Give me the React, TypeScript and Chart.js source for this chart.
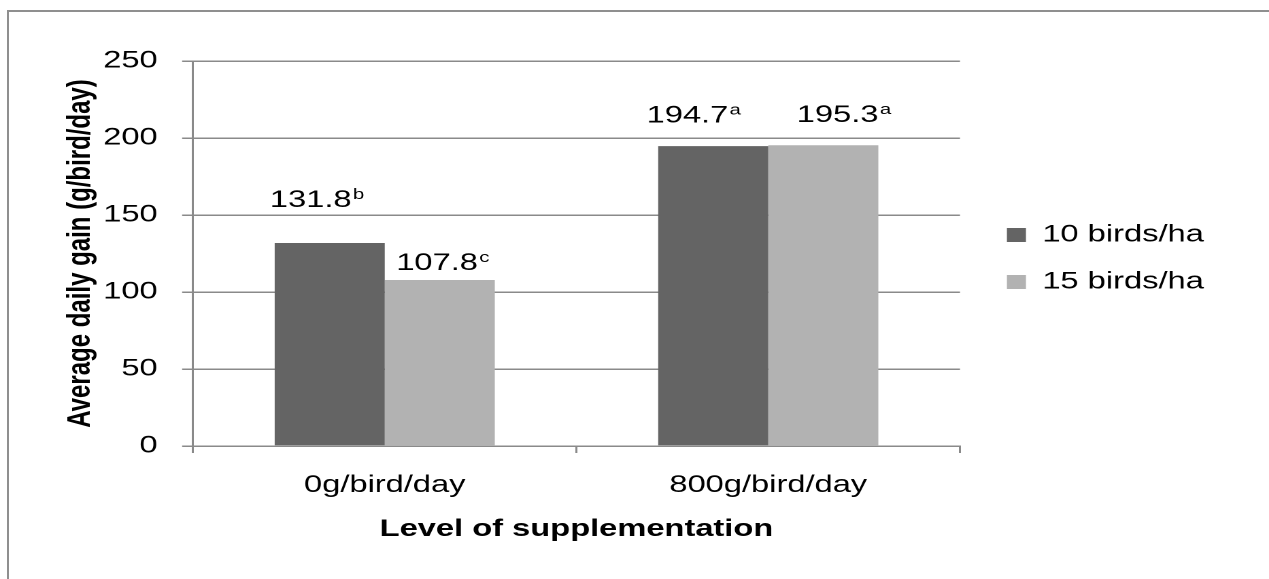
import React, { useEffect, useRef } from "react";
import { Chart, registerables } from "chart.js";

Chart.register(...registerables);

// ---------- data ----------
const CATEGORIES = ["0g/bird/day", "800g/bird/day"];
const SERIES_NAMES = ["10 birds/ha", "15 birds/ha"];
const SERIES_10 = [131.8, 194.7];
const SERIES_15 = [107.8, 195.3];
const SUP_10 = ["b", "a"];
const SUP_15 = ["c", "a"];
const Y_TICKS = [0, 50, 100, 150, 200, 250];
const X_TITLE = "Level of supplementation";
const Y_TITLE = "Average daily gain (g/bird/day)";

// ---------- layout / style ----------
const PAGE_W = 1269;
const PAGE_H = 579;
const W = 933; // drawing width, stretched horizontally to the page width
const S = PAGE_W / W;
const PLOT_LEFT = 193 / S;
const PLOT_RIGHT = 960 / S;
const PLOT_TOP = 61;
const PLOT_BOTTOM = 446;

const FONT = "'Liberation Sans', Arial, Helvetica, sans-serif";
const GRID = "#8a8a8a";
const DARK = "#646464";
const LIGHT = "#b2b2b2";

// label nudges (dataset, category)
const LABEL_DX = [
  [-44, -49],
  [-32, -19.5],
];
const LABEL_LIFT = [
  [36, 23.5],
  [10, 23],
];

const layoutFix = {
  id: "layoutFix",
  beforeUpdate(chart: any) {
    const lg = chart.legend;
    if (lg && !lg._fixedFit) {
      const fit = lg.fit.bind(lg);
      lg.fit = function () {
        fit();
        this.width = W - PLOT_RIGHT;
      };
      lg._fixedFit = true;
    }
  },
  afterLayout(chart: any) {
    const lg = chart.legend;
    if (lg) {
      lg.left += 11.5;
      lg.right += 11.5;
      lg.top += 5;
      lg.bottom += 5;
    }
  },
};

const dataLabels = {
  id: "dataLabels",
  afterDatasetsDraw(chart: any) {
    const ctx = chart.ctx;
    const sups = [SUP_10, SUP_15];
    chart.data.datasets.forEach((ds: any, di: number) => {
      const meta = chart.getDatasetMeta(di);
      meta.data.forEach((bar: any, i: number) => {
        const main = Number(ds.data[i]).toFixed(1);
        const x = bar.x + LABEL_DX[di][i];
        const y = bar.y - LABEL_LIFT[di][i];
        ctx.save();
        ctx.fillStyle = "#000";
        ctx.textAlign = "left";
        ctx.textBaseline = "alphabetic";
        ctx.font = `24px ${FONT}`;
        ctx.fillText(main, x, y);
        const w = ctx.measureText(main).width;
        ctx.font = `15px ${FONT}`;
        ctx.fillText(sups[di][i], x + w + 1, y - 8);
        ctx.restore();
      });
    });
  },
};

export default function App() {
  const ref = useRef<HTMLCanvasElement | null>(null);

  useEffect(() => {
    if (!ref.current) return;
    const chart = new Chart(ref.current, {
      type: "bar",
      data: {
        labels: CATEGORIES,
        datasets: [
          {
            label: SERIES_NAMES[0],
            data: SERIES_10,
            backgroundColor: DARK,
            borderWidth: 0,
            categoryPercentage: 0.574,
            barPercentage: 1,
          },
          {
            label: SERIES_NAMES[1],
            data: SERIES_15,
            backgroundColor: LIGHT,
            borderWidth: 0,
            categoryPercentage: 0.574,
            barPercentage: 1,
          },
        ],
      },
      options: {
        animation: false,
        responsive: true,
        maintainAspectRatio: false,
        devicePixelRatio: 2,
        layout: { padding: { top: PLOT_TOP, left: 0, right: 0, bottom: 0 } },
        plugins: {
          legend: {
            position: "right",
            fullSize: false,
            align: "center",
            labels: {
              boxWidth: 14,
              boxHeight: 14,
              padding: 23,
              color: "#000",
              font: { family: FONT, size: 24 },
            },
          },
          tooltip: { enabled: false },
          title: { display: false },
        },
        scales: {
          x: {
            offset: true,
            grid: {
              display: true,
              drawOnChartArea: false,
              drawTicks: true,
              tickLength: 7,
              color: GRID,
              lineWidth: 1.5,
              offset: true,
            },
            border: { display: true, color: GRID, width: 1.5 },
            ticks: {
              color: "#000",
              font: { family: FONT, size: 24 },
              padding: 18,
              maxRotation: 0,
              autoSkip: false,
            },
            title: {
              display: true,
              text: X_TITLE,
              color: "#000",
              font: { family: FONT, size: 24, weight: "bold" },
              padding: { top: 0, bottom: 35 },
            },
            afterFit: (s: any) => {
              s.height = PAGE_H - PLOT_BOTTOM;
            },
          },
          y: {
            min: Y_TICKS[0],
            max: Y_TICKS[Y_TICKS.length - 1],
            ticks: {
              stepSize: Y_TICKS[1] - Y_TICKS[0],
              color: "#000",
              font: { family: FONT, size: 24 },
              padding: 18,
            },
            grid: { color: GRID, lineWidth: 1.5, tickLength: 8, drawTicks: true },
            border: { display: true, color: GRID, width: 1.5 },
            title: {
              display: true,
              text: Y_TITLE,
              color: "#000",
              font: { family: FONT, size: 24, weight: "bold" },
              padding: { top: 45, bottom: 0 },
            },
            afterFit: (s: any) => {
              s.width = PLOT_LEFT;
            },
          },
        },
      },
      plugins: [layoutFix, dataLabels],
    } as any);
    return () => chart.destroy();
  }, []);

  return (
    <div
      style={{
        position: "fixed",
        left: 0,
        top: 0,
        width: PAGE_W,
        height: PAGE_H,
        overflow: "hidden",
        background: "#fff",
      }}
    >
      <div
        style={{
          position: "absolute",
          left: 7,
          top: 10,
          width: PAGE_W + 50,
          height: PAGE_H + 50,
          borderLeft: "2px solid #8f8f8f",
          borderTop: "2px solid #8f8f8f",
          boxSizing: "border-box",
        }}
      />
      <div
        style={{
          position: "absolute",
          left: 0,
          top: 0,
          width: W,
          height: PAGE_H,
          transform: `scaleX(${S})`,
          transformOrigin: "0 0",
        }}
      >
        <div style={{ position: "relative", width: W, maxWidth: `${W}px`, height: PAGE_H }}>
          <canvas ref={ref} />
        </div>
      </div>
    </div>
  );
}
